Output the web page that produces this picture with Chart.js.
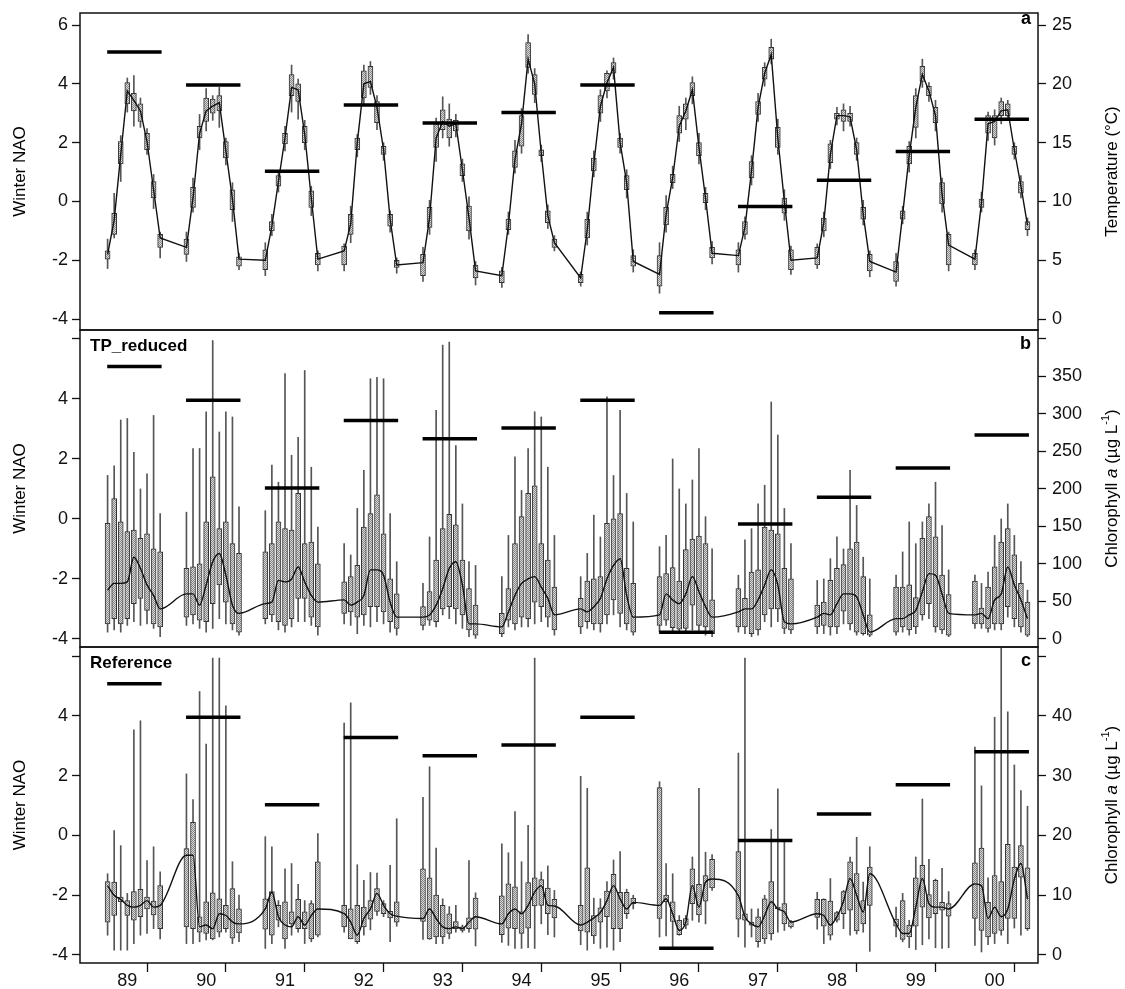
<!DOCTYPE html>
<html>
<head>
<meta charset="utf-8">
<script src="https://cdn.jsdelivr.net/npm/chart.js@4.4.0/dist/chart.umd.min.js"></script>
<style>
  body { margin: 0; background: #fff; }
  #wrap { position: relative; width: 1125px; height: 989px; }
  canvas { position: absolute; left: 0; }
</style>
</head>
<body>
<div id="wrap">
  <canvas id="panelA" width="1125" height="335" style="top:0px"></canvas>
  <canvas id="panelB" width="1125" height="327" style="top:325px"></canvas>
  <canvas id="panelC" width="1125" height="347" style="top:642px"></canvas>
</div>
<script>
const yearLabels = ['89', '90', '91', '92', '93', '94', '95', '96', '97', '98', '99', '00'];
const yearStart = [1989, 1990, 1991, 1992, 1993, 1994, 1995, 1996, 1997, 1998, 1999, 2000];
const sampleMonths = [3, 4, 5, 6, 7, 8, 9, 10, 11]; // months since January
const winterNAO = [5.08, 3.96, 1.03, 3.28, 2.67, 3.03, 3.96, -3.78, -0.17, 0.72, 1.70, 2.80];

// panel a: water temperature (°C), one row per year
const tempLo = [
  [4.3, 6.9, 11.7, 17.6, 16.4, 16.3, 14.0, 9.4, 5.2],
  [4.9, 9.1, 14.4, 16.0, 16.9, 16.3, 13.1, 8.3, 4.2],
  [3.7, 7.1, 10.8, 14.3, 17.6, 17.0, 14.4, 8.8, 4.1],
  [4.1, 6.5, 13.8, 18.2, 19.1, 16.1, 13.5, 7.4, 3.9],
  [3.2, 7.2, 13.4, 15.4, 14.7, 15.5, 11.7, 6.8, 2.9],
  [2.7, 7.2, 12.4, 14.1, 20.9, 18.4, 13.4, 7.7, 5.8],
  [2.8, 6.3, 12.1, 16.8, 18.8, 20.4, 14.1, 10.3, 4.0],
  [2.2, 7.4, 11.1, 15.1, 16.1, 18.3, 13.2, 9.3, 4.7],
  [4.0, 6.8, 11.4, 16.8, 19.8, 21.7, 14.0, 8.4, 3.8],
  [4.3, 7.0, 12.8, 16.5, 16.0, 16.4, 13.5, 8.0, 3.6],
  [2.8, 8.1, 12.5, 15.4, 19.7, 18.5, 16.0, 9.1, 4.1],
  [4.2, 9.1, 15.2, 14.8, 16.6, 16.9, 13.6, 10.3, 7.1]
];
const tempQ1 = [
  [5.1, 7.2, 13.2, 18.3, 17.7, 16.8, 14.4, 10.3, 6.1],
  [5.5, 9.5, 15.4, 16.8, 17.5, 17.7, 13.7, 9.3, 4.5],
  [4.2, 7.5, 11.3, 14.9, 19.0, 18.5, 15.0, 9.5, 4.6],
  [4.6, 7.2, 14.4, 18.8, 19.7, 16.7, 14.0, 7.9, 4.4],
  [3.7, 7.8, 14.6, 16.1, 15.4, 16.0, 12.2, 7.5, 3.5],
  [3.1, 7.6, 12.9, 14.7, 21.4, 19.1, 13.9, 8.2, 6.1],
  [3.1, 6.9, 12.6, 17.5, 19.4, 20.9, 14.6, 11.0, 4.5],
  [2.8, 8.0, 11.6, 15.8, 17.0, 19.0, 13.9, 9.9, 5.2],
  [4.6, 7.2, 12.0, 17.4, 20.4, 22.1, 14.6, 9.0, 4.2],
  [4.6, 7.5, 13.3, 17.0, 16.8, 16.8, 14.0, 8.5, 4.1],
  [3.2, 8.5, 13.2, 16.3, 20.2, 19.0, 16.7, 9.8, 4.6],
  [4.6, 9.5, 15.8, 15.4, 17.3, 17.3, 14.0, 10.7, 7.6]
];
const tempMed = [
  [5.5, 8.4, 14.0, 19.4, 18.6, 17.7, 15.1, 11.0, 6.9],
  [6.1, 10.3, 15.8, 17.7, 18.1, 18.4, 14.3, 10.2, 5.1],
  [5.0, 7.9, 11.7, 15.4, 19.7, 19.5, 15.7, 10.3, 5.1],
  [5.8, 8.1, 15.0, 20.0, 20.2, 18.0, 14.4, 8.5, 4.6],
  [4.8, 8.6, 15.4, 16.8, 16.4, 16.6, 12.7, 8.6, 4.1],
  [3.7, 8.0, 13.6, 16.6, 22.1, 20.0, 14.1, 8.8, 6.5],
  [3.5, 7.6, 13.2, 18.1, 20.1, 21.4, 15.0, 11.6, 4.9],
  [3.8, 8.9, 12.0, 16.4, 17.7, 19.5, 14.6, 10.3, 5.6],
  [5.4, 7.8, 12.6, 18.0, 20.9, 22.5, 15.4, 10.0, 5.0],
  [5.2, 8.2, 14.0, 17.3, 17.3, 17.2, 14.4, 8.9, 4.9],
  [4.0, 8.9, 13.9, 18.0, 20.8, 19.4, 17.3, 10.6, 6.3],
  [5.1, 9.9, 16.6, 16.8, 17.7, 17.8, 14.4, 11.3, 8.0]
];
const tempQ3 = [
  [5.8, 9.0, 15.1, 20.1, 19.2, 18.3, 15.8, 11.7, 7.2],
  [6.8, 11.2, 16.4, 18.8, 18.7, 19.0, 15.1, 11.0, 5.3],
  [5.9, 8.3, 12.2, 15.8, 20.8, 20.0, 16.4, 10.9, 5.6],
  [6.2, 8.9, 15.4, 21.1, 21.5, 18.5, 14.7, 8.9, 5.0],
  [5.5, 9.5, 16.6, 17.8, 17.0, 16.9, 13.2, 9.6, 4.6],
  [4.1, 8.5, 14.3, 17.3, 23.5, 20.8, 14.4, 9.2, 6.8],
  [3.8, 8.5, 13.7, 19.0, 20.9, 21.8, 15.4, 12.2, 5.4],
  [5.4, 9.5, 12.3, 17.3, 18.3, 20.1, 15.0, 10.7, 6.1],
  [5.9, 8.3, 13.4, 18.5, 21.4, 23.1, 16.3, 10.3, 5.9],
  [6.1, 8.6, 14.9, 17.5, 17.8, 17.5, 15.0, 9.5, 5.5],
  [4.9, 9.2, 14.7, 19.0, 21.5, 19.8, 18.0, 11.6, 7.2],
  [5.6, 10.2, 17.3, 17.3, 18.5, 18.3, 14.7, 11.7, 8.3]
];
const tempHi = [
  [6.8, 10.7, 15.6, 20.5, 20.7, 18.8, 16.2, 12.3, 7.4],
  [7.4, 12.0, 17.4, 19.6, 19.0, 19.7, 15.4, 11.6, 5.6],
  [6.5, 8.9, 12.6, 16.4, 21.6, 20.4, 16.9, 11.3, 5.8],
  [6.4, 9.6, 15.7, 21.6, 21.9, 19.0, 15.0, 9.2, 5.2],
  [6.1, 10.1, 17.1, 18.9, 18.3, 17.4, 13.6, 10.4, 4.9],
  [4.4, 9.1, 15.2, 17.9, 24.2, 21.3, 14.8, 9.7, 7.1],
  [4.0, 9.1, 14.3, 19.5, 21.1, 22.2, 15.8, 12.7, 5.9],
  [6.5, 10.5, 13.0, 18.1, 18.8, 20.6, 15.8, 11.2, 6.6],
  [6.5, 8.7, 13.9, 19.2, 21.8, 23.8, 17.0, 11.0, 6.2],
  [6.4, 9.1, 15.2, 18.0, 18.3, 18.1, 15.4, 10.1, 5.8],
  [5.6, 9.6, 15.1, 19.6, 22.1, 20.1, 18.6, 12.0, 7.4],
  [5.9, 10.8, 17.6, 17.8, 18.8, 18.6, 15.0, 12.2, 8.6]
];

// panel b: chlorophyll a, TP_reduced site (µg/L)
const tpLo = [
  [9, 12, 9, 18, 23, 18, 20, 14, 3],
  [18, 20, 14, 9, 14, 27, 20, 12, 5],
  [20, 23, 12, 9, 16, 23, 23, 18, 5],
  [20, 18, 7, 18, 16, 23, 20, 9, 5],
  [12, 18, 16, 32, 27, 20, 14, 3, 0],
  [3, 16, 12, 16, 16, 20, 23, 16, 5],
  [7, 14, 12, 9, 20, 32, 16, 12, 5],
  [9, 18, 7, 7, 7, 12, 9, 5, 3],
  [9, 7, 3, 5, 23, 16, 23, 7, 7],
  [7, 7, 5, 7, 20, 12, 5, 5, 3],
  [5, 9, 5, 7, 25, 27, 9, 7, 3],
  [14, 14, 9, 12, 12, 29, 16, 9, 3]
];
const tpQ1 = [
  [20, 27, 20, 27, 47, 54, 38, 20, 16],
  [29, 32, 25, 23, 47, 72, 49, 20, 9],
  [27, 32, 23, 18, 27, 54, 54, 29, 16],
  [34, 36, 29, 32, 43, 43, 36, 23, 14],
  [18, 25, 23, 40, 43, 40, 32, 12, 5],
  [7, 25, 20, 29, 27, 49, 43, 29, 12],
  [16, 23, 20, 20, 32, 52, 34, 20, 9],
  [18, 25, 15, 13, 14, 45, 18, 16, 7],
  [16, 16, 7, 12, 32, 40, 40, 14, 12],
  [16, 18, 16, 16, 37, 20, 9, 7, 5],
  [9, 16, 12, 16, 32, 47, 16, 12, 5],
  [20, 20, 14, 20, 20, 43, 27, 16, 5]
];
const tpMed = [
  [65, 74, 74, 76, 109, 94, 72, 58, 40],
  [60, 60, 45, 72, 103, 114, 85, 45, 34],
  [47, 49, 78, 76, 80, 96, 76, 58, 49],
  [52, 45, 49, 58, 92, 92, 85, 49, 29],
  [29, 32, 45, 67, 94, 103, 72, 20, 20],
  [16, 36, 58, 74, 80, 83, 69, 54, 32],
  [40, 36, 43, 54, 80, 98, 107, 58, 29],
  [32, 60, 52, 47, 60, 83, 63, 43, 29],
  [36, 40, 40, 52, 72, 92, 72, 23, 20],
  [29, 34, 32, 47, 60, 60, 56, 32, 9],
  [27, 27, 32, 38, 63, 87, 85, 60, 34],
  [32, 34, 27, 52, 60, 96, 72, 52, 27]
];
const tpQ3 = [
  [154, 187, 156, 143, 145, 134, 140, 120, 116],
  [94, 96, 100, 156, 216, 147, 156, 127, 114],
  [116, 127, 156, 147, 145, 194, 127, 129, 100],
  [76, 83, 98, 149, 167, 192, 140, 80, 60],
  [43, 63, 105, 147, 166, 152, 105, 67, 45],
  [34, 67, 127, 163, 194, 204, 127, 105, 69],
  [54, 77, 80, 83, 154, 160, 167, 94, 74],
  [83, 87, 95, 77, 119, 133, 137, 127, 52],
  [67, 54, 89, 92, 149, 145, 140, 94, 80],
  [45, 49, 78, 94, 99, 120, 129, 83, 32],
  [69, 69, 72, 55, 134, 163, 136, 85, 59],
  [77, 41, 69, 96, 129, 147, 112, 74, 49]
];
const tpHi = [
  [218, 231, 292, 294, 249, 200, 220, 298, 167],
  [169, 254, 254, 303, 398, 276, 303, 296, 176],
  [171, 232, 209, 354, 245, 269, 358, 229, 149],
  [127, 112, 174, 225, 347, 349, 347, 167, 103],
  [74, 136, 305, 392, 396, 258, 180, 103, 98],
  [83, 138, 243, 198, 254, 303, 296, 229, 138],
  [83, 114, 165, 136, 323, 218, 305, 194, 156],
  [123, 138, 240, 200, 180, 212, 254, 163, 120],
  [85, 132, 147, 180, 205, 316, 272, 174, 127],
  [78, 80, 107, 136, 120, 225, 178, 109, 80],
  [85, 116, 156, 127, 156, 180, 209, 151, 92],
  [85, 74, 89, 138, 160, 180, 138, 103, 65]
];

// panel c: chlorophyll a, reference site (µg/L)
const refLo = [
  [3.3, 0.8, 0.8, 0.8, 1.9, 3.3, 3.6, 4.4, 2.7],
  [1.9, 1.9, 2.2, 2.5, 2.5, 3.0, 3.8, 1.9, 2.2],
  [1.1, 1.9, 4.7, 1.1, 3.3, 3.8, 1.9, 2.2, 3.0],
  [3.8, 2.7, 1.9, 3.3, 4.2, 6.6, 6.4, 2.2, 4.8],
  [2.6, 2.6, 1.9, 1.9, 2.7, 3.8, 3.8, 3.8, 1.5],
  [2.1, 1.6, 1.1, 1.1, 1.2, 1.1, 5.2, 3.4, 3.0],
  [1.7, 0.8, 1.9, 1.1, 1.3, 0.8, 2.2, 6.1, 7.7],
  [3.0, 3.2, 1.1, 3.3, 4.4, 5.8, 5.5, 5.2, 10.8],
  [3.0, 1.3, 3.0, 1.3, 1.9, 2.5, 3.8, 4.1, 4.5],
  [4.3, 1.9, 2.5, 5.5, 4.4, 3.3, 3.5, 3.8, 0.6],
  [3.0, 2.2, 1.2, 0.9, 1.7, 2.7, 1.2, 1.1, 1.2],
  [1.6, 0.5, 1.7, 1.9, 3.3, 1.9, 4.5, 3.3, 4.1]
];
const refQ1 = [
  [5.5, 6.6, 8.9, 6.6, 5.8, 6.4, 7.7, 6.7, 4.4],
  [4.7, 4.4, 3.8, 3.6, 2.7, 3.8, 4.4, 2.8, 3.7],
  [4.3, 3.3, 5.8, 2.7, 5.2, 4.4, 4.4, 2.7, 3.3],
  [4.7, 2.7, 2.2, 4.7, 6.0, 7.3, 6.9, 6.2, 5.5],
  [5.6, 2.7, 3.0, 3.0, 3.6, 4.4, 4.1, 4.4, 4.3],
  [3.4, 4.5, 4.4, 3.6, 4.5, 8.2, 8.3, 6.9, 6.2],
  [4.0, 3.8, 3.2, 5.5, 6.4, 4.4, 4.4, 6.9, 8.6],
  [6.1, 8.9, 5.6, 3.4, 5.0, 8.6, 6.7, 9.0, 11.2],
  [6.0, 5.8, 5.0, 2.2, 2.7, 3.5, 7.7, 5.2, 4.7],
  [6.3, 4.8, 3.3, 5.8, 6.9, 7.5, 4.0, 5.2, 8.3],
  [4.8, 2.6, 3.0, 4.8, 8.0, 6.2, 6.9, 7.5, 6.5],
  [6.1, 4.1, 3.0, 3.6, 4.1, 6.1, 6.1, 13.0, 4.4]
];
const refMed = [
  [11.6, 10.0, 9.3, 8.3, 8.0, 8.3, 9.1, 8.0, 8.3],
  [16.7, 16.7, 4.7, 5.0, 4.4, 6.9, 6.6, 5.5, 5.2],
  [7.7, 10.5, 6.4, 5.0, 4.7, 6.4, 5.0, 6.6, 7.7],
  [6.9, 5.5, 3.3, 6.1, 7.7, 10.3, 8.3, 6.9, 6.5],
  [6.1, 7.7, 6.1, 4.7, 4.4, 4.7, 4.4, 5.5, 6.4],
  [5.2, 6.9, 7.7, 6.9, 8.3, 10.5, 11.6, 8.3, 8.2],
  [5.0, 5.5, 6.2, 7.1, 9.1, 11.6, 9.4, 7.7, 8.8],
  [8.3, 9.4, 6.9, 4.1, 5.5, 11.6, 8.0, 12.2, 12.7],
  [9.9, 6.4, 5.2, 4.7, 6.6, 8.9, 7.7, 7.2, 5.5],
  [6.9, 6.6, 5.0, 6.4, 9.0, 12.8, 10.0, 7.2, 13.6],
  [5.2, 3.6, 3.6, 8.0, 12.8, 8.6, 8.0, 8.0, 7.7],
  [11.9, 11.6, 6.1, 8.0, 6.4, 7.7, 12.7, 15.3, 9.4]
];
const refQ3 = [
  [12.3, 12.2, 9.7, 9.1, 10.6, 11.0, 9.7, 9.0, 11.6],
  [17.8, 22.2, 6.4, 8.9, 10.4, 9.4, 8.3, 11.1, 7.7],
  [9.4, 10.6, 8.3, 8.9, 7.2, 9.3, 7.2, 8.6, 15.6],
  [8.3, 7.7, 8.3, 8.0, 9.1, 11.1, 8.6, 7.3, 8.9],
  [14.4, 12.9, 10.0, 8.3, 6.9, 5.6, 4.7, 6.2, 9.5],
  [9.9, 11.9, 11.4, 7.2, 12.1, 12.9, 12.6, 11.2, 9.3],
  [8.3, 14.6, 6.6, 7.9, 10.7, 13.5, 10.5, 10.5, 9.5],
  [28.0, 10.0, 8.9, 5.8, 6.1, 14.4, 11.8, 13.3, 16.0],
  [17.3, 6.9, 5.5, 6.4, 9.4, 12.3, 8.0, 8.6, 5.6],
  [9.3, 9.3, 9.0, 7.1, 10.6, 15.6, 13.6, 9.1, 14.7],
  [6.0, 9.1, 5.0, 12.9, 15.0, 10.1, 12.5, 8.8, 8.6],
  [15.4, 17.9, 8.8, 13.3, 12.3, 18.5, 14.7, 18.3, 14.6]
];
const refHi = [
  [13.6, 20.8, 18.3, 10.3, 37.7, 39.2, 15.8, 18.1, 13.9],
  [30.3, 26.0, 44.1, 35.3, 49.7, 49.7, 41.7, 15.6, 10.0],
  [19.8, 18.1, 9.1, 14.4, 15.3, 11.8, 9.1, 9.1, 20.3],
  [38.8, 42.2, 15.1, 12.5, 13.8, 13.7, 9.1, 15.0, 22.8],
  [26.4, 31.5, 17.9, 9.4, 8.1, 8.3, 5.0, 15.8, 10.4],
  [18.6, 17.1, 24.0, 15.6, 21.7, 49.7, 13.9, 14.9, 10.8],
  [29.9, 27.9, 9.5, 9.4, 12.3, 15.9, 17.3, 11.0, 10.0],
  [29.0, 15.3, 13.6, 6.6, 6.6, 16.4, 27.9, 17.2, 16.8],
  [33.8, 49.7, 7.7, 7.7, 10.0, 21.0, 27.8, 18.9, 5.8],
  [10.5, 9.4, 12.8, 7.3, 10.8, 16.4, 19.7, 12.2, 18.1],
  [8.0, 10.3, 5.8, 16.4, 26.1, 16.0, 12.7, 14.5, 10.6],
  [34.8, 28.3, 12.9, 39.8, 55.0, 40.7, 31.8, 27.5, 24.9]
];

const FONT = '"Liberation Sans", Arial, Helvetica, sans-serif';
Chart.defaults.font.family = FONT;
Chart.defaults.color = '#111';

function boxData(lo, q1, med, q3, hi) {
  const whiskers = [], boxes = [], medians = [];
  yearStart.forEach((yr, yi) => {
    sampleMonths.forEach((m, mi) => {
      const x = yr + m / 12;
      whiskers.push({ x: x, y: [lo[yi][mi], hi[yi][mi]] });
      boxes.push({ x: x, y: [q1[yi][mi], q3[yi][mi]] });
      medians.push({ x: x, y: med[yi][mi] });
    });
  });
  return { whiskers, boxes, medians };
}

function naoBars() {
  const pts = [];
  winterNAO.forEach((v, i) => {
    pts.push({ x: yearStart[i] + 0.245, y: v });
    pts.push({ x: yearStart[i] + 0.935, y: v });
    pts.push({ x: yearStart[i] + 0.96, y: null });
  });
  return pts;
}

function stipple(ctx) {
  const tile = document.createElement('canvas');
  tile.width = 2; tile.height = 2;
  const g = tile.getContext('2d');
  g.fillStyle = '#d9d9d9'; g.fillRect(0, 0, 2, 2);
  g.fillStyle = '#858585'; g.fillRect(0, 0, 1, 1); g.fillRect(1, 1, 1, 1);
  return ctx.createPattern(tile, 'repeat');
}

function drawRotated(ctx, parts, cx, cy) {
  ctx.save();
  ctx.translate(cx, cy);
  ctx.rotate(-Math.PI / 2);
  ctx.textAlign = 'left';
  ctx.textBaseline = 'middle';
  let total = 0;
  parts.forEach(p => { ctx.font = p.font; p.w = ctx.measureText(p.text).width; total += p.w; });
  let x = -total / 2;
  parts.forEach(p => { ctx.font = p.font; ctx.fillText(p.text, x, p.dy || 0); x += p.w; });
  ctx.restore();
}

const panelDecor = {
  id: 'panelDecor',
  afterDraw(chart, args, opts) {
    const { ctx, chartArea: a } = chart;
    ctx.save();
    ctx.strokeStyle = '#111';
    ctx.lineWidth = 1.5;
    ctx.strokeRect(a.left, a.top, a.right - a.left, a.bottom - a.top);
    ctx.fillStyle = '#000';
    ctx.textBaseline = 'alphabetic';
    ctx.textAlign = 'right';
    ctx.font = 'bold 18px ' + FONT;
    ctx.fillText(opts.letter, a.right - 7, a.top + opts.letterDy);
    if (opts.tag) {
      ctx.textAlign = 'left';
      ctx.font = 'bold 17px ' + FONT;
      ctx.fillText(opts.tag, a.left + 10, a.top + 21);
    }
    const cy = (a.top + a.bottom) / 2;
    drawRotated(ctx, [{ text: 'Winter NAO', font: '17px ' + FONT }], 20, cy);
    drawRotated(ctx, opts.rightTitle, 1112, cy);
    ctx.restore();
  }
};

const tickFont = { size: 18, family: FONT };

// keep the plot frame exactly where the figure has it
function noPad(s) {
  s.paddingTop = 0; s.paddingBottom = 0; s.paddingLeft = 0; s.paddingRight = 0;
}

function makePanel(id, cfg) {
  const canvas = document.getElementById(id);
  const d = boxData(cfg.lo, cfg.q1, cfg.med, cfg.q3, cfg.hi);
  new Chart(canvas, {
    type: 'bar',
    data: {
      datasets: [
        {
          type: 'line', data: naoBars(), yAxisID: 'y', order: 0,
          borderColor: '#000', borderWidth: 3.5, borderCapStyle: 'butt',
          pointRadius: 0, spanGaps: false
        },
        {
          type: 'line', data: d.medians, yAxisID: 'y2', order: 1,
          borderColor: '#111', borderWidth: 1.4, pointRadius: 0,
          cubicInterpolationMode: cfg.smooth ? 'monotone' : 'default', tension: 0
        },
        {
          type: 'bar', data: d.boxes, yAxisID: 'y2', order: 2,
          backgroundColor: stipple(canvas.getContext('2d')), borderColor: '#333',
          borderWidth: 1, borderSkipped: false, barThickness: 5, grouped: false
        },
        {
          type: 'bar', data: d.whiskers, yAxisID: 'y2', order: 3,
          backgroundColor: '#555', borderWidth: 0, barThickness: 1, grouped: false
        }
      ]
    },
    options: {
      responsive: false,
      animation: false,
      events: [],
      layout: { padding: { top: cfg.padTop, bottom: cfg.padBottom, left: 0, right: 0 } },
      plugins: {
        legend: { display: false },
        tooltip: { enabled: false },
        panelDecor: { letter: cfg.letter, letterDy: cfg.letterDy, tag: cfg.tag, rightTitle: cfg.rightTitle }
      },
      scales: {
        x: {
          type: 'linear', min: 1988.9, max: 2001.05, offset: false,
          display: cfg.showX,
          border: { display: false },
          grid: {
            drawOnChartArea: false, tickLength: 9, tickWidth: 1.3,
            tickColor: (c) => (c.tick && c.tick.value % 1 !== 0) ? 'rgba(0,0,0,0)' : '#111'
          },
          ticks: {
            font: tickFont, color: '#111', padding: -2, autoSkip: false, maxRotation: 0,
            callback: (v) => (v % 1 !== 0) ? yearLabels[Math.floor(v) - 1989] : ''
          },
          afterBuildTicks: (s) => {
            const t = [];
            yearStart.forEach(y => { t.push({ value: y }); t.push({ value: y + 0.5 }); });
            t.push({ value: 2001 });
            s.ticks = t;
          },
          afterFit: (s) => { s.height = cfg.showX ? 26 : 0; noPad(s); }
        },
        y: {
          axis: 'y', position: 'left', min: cfg.naoMin, max: cfg.naoMax,
          border: { display: false },
          grid: { drawOnChartArea: false, tickLength: 8, tickWidth: 1.3, tickColor: '#111' },
          ticks: {
            font: tickFont, color: '#111', padding: 4,
            callback: (v) => (cfg.hideTopNao && v === 6) ? '' : String(v)
          },
          afterBuildTicks: (s) => { s.ticks = [-4, -2, 0, 2, 4, 6].map(v => ({ value: v })); },
          afterFit: (s) => { s.width = 80; noPad(s); }
        },
        y2: {
          axis: 'y', position: 'right', min: cfg.rMin, max: cfg.rMax,
          border: { display: false },
          grid: { drawOnChartArea: false, tickLength: 8, tickWidth: 1.3, tickColor: '#111' },
          ticks: {
            font: tickFont, color: '#111', padding: 6,
            callback: (v) => (v === cfg.rHideTop) ? '' : String(v)
          },
          afterBuildTicks: (s) => { s.ticks = cfg.rTicks.map(v => ({ value: v })); },
          afterFit: (s) => { s.width = 87; noPad(s); }
        }
      }
    },
    plugins: [panelDecor]
  });
}

const chlTitle = [
  { text: 'Chlorophyll ', font: '17px ' + FONT },
  { text: 'a', font: 'italic 17px ' + FONT },
  { text: ' (µg L', font: '17px ' + FONT },
  { text: '-1', font: '11px ' + FONT, dy: -6 },
  { text: ')', font: '17px ' + FONT }
];

makePanel('panelA', {
  lo: tempLo, q1: tempQ1, med: tempMed, q3: tempQ3, hi: tempHi,
  padTop: 13, padBottom: 5, showX: false, smooth: false,
  naoMin: -4.37, naoMax: 6.41, hideTopNao: false,
  rMin: -0.925, rMax: 26.025, rTicks: [0, 5, 10, 15, 20, 25], rHideTop: null,
  letter: 'a', letterDy: 11, tag: null,
  rightTitle: [{ text: 'Temperature (°C)', font: '17px ' + FONT }]
});

makePanel('panelB', {
  lo: tpLo, q1: tpQ1, med: tpMed, q3: tpQ3, hi: tpHi,
  padTop: 5, padBottom: 5, showX: false, smooth: true,
  naoMin: -4.27, naoMax: 6.3, hideTopNao: true,
  rMin: -10.8, rMax: 412, rTicks: [0, 50, 100, 150, 200, 250, 300, 350, 400], rHideTop: 400,
  letter: 'b', letterDy: 19, tag: 'TP_reduced',
  rightTitle: chlTitle
});

makePanel('panelC', {
  lo: refLo, q1: refQ1, med: refMed, q3: refQ3, hi: refHi,
  padTop: 5, padBottom: 0, showX: true, smooth: true,
  naoMin: -4.27, naoMax: 6.31, hideTopNao: true,
  rMin: -1.35, rMax: 51.55, rTicks: [0, 10, 20, 30, 40, 50], rHideTop: 50,
  letter: 'c', letterDy: 19, tag: 'Reference',
  rightTitle: chlTitle
});
</script>
</body>
</html>
